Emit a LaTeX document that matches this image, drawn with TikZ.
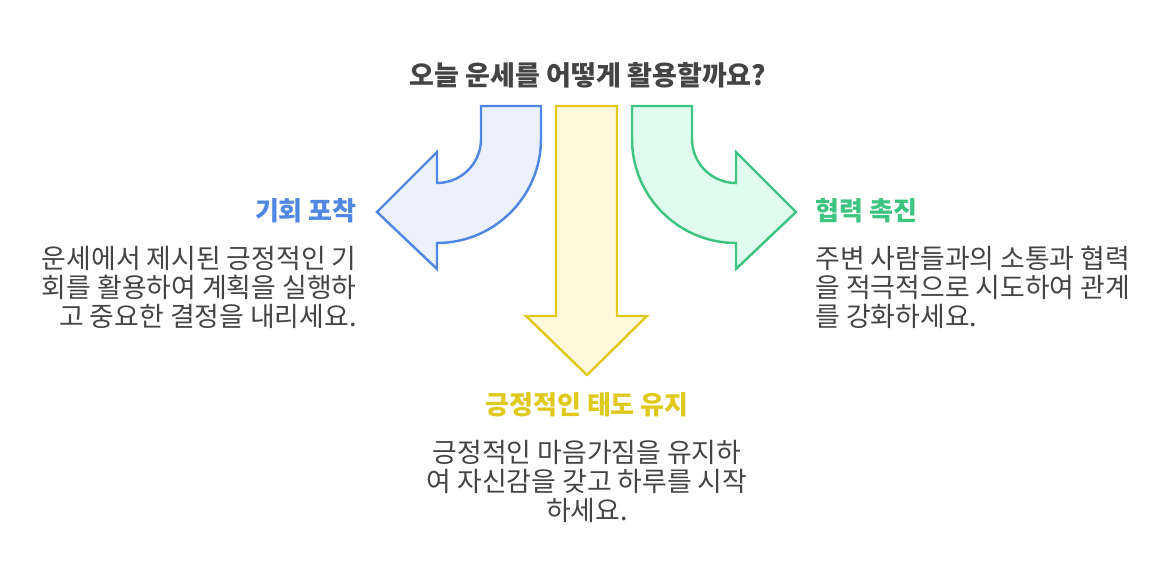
\documentclass[tikz,border=0pt]{standalone}
\usepackage{xcolor}
\usepackage{fontspec}
\setmainfont{Noto Sans CJK KR}
\usepackage{tikz}
\usetikzlibrary{positioning}
\definecolor{ink}{HTML}{444444}
\definecolor{blueline}{HTML}{4F87E2}
\definecolor{bluefill}{HTML}{EBF2FE}
\definecolor{yellowline}{HTML}{E0C81C}
\definecolor{yellowfill}{HTML}{FFF8DB}
\definecolor{greenline}{HTML}{3CC480}
\definecolor{greenfill}{HTML}{E0FCEE}
\tikzset{
  ArrowShape/.style={line width=1.4pt, line join=miter},
  HeadText/.style={font=\fontsize{14.8pt}{17pt}\selectfont\bfseries, inner sep=0pt},
  BodyText/.style={font=\fontsize{15.3pt}{16.6pt}\selectfont, text=ink, inner sep=0pt}
}

\begin{document}
\begin{tikzpicture}[x=0.02cm, y=-0.02cm]
  \useasboundingbox (0,0) rectangle (1173,588);

  % left bent arrow
  \draw[ArrowShape, draw=blueline, fill=bluefill]
    (481,106) -- (541,106) -- (541,139) arc[start angle=0, end angle=90, radius=104]
    -- (437,269) -- (377,212) -- (437,152) -- (437,183)
    arc[start angle=90, end angle=0, radius=44] -- cycle;

  % right bent arrow
  \draw[ArrowShape, draw=greenline, fill=greenfill]
    (692,106) -- (632,106) -- (632,139) arc[start angle=180, end angle=90, radius=104]
    -- (736,269) -- (796,212) -- (736,152) -- (736,183)
    arc[start angle=90, end angle=180, radius=44] -- cycle;

  % straight arrow down
  \draw[ArrowShape, draw=yellowline, fill=yellowfill]
    (556,106) -- (617,106) -- (617,316) -- (647,316) -- (587,375)
    -- (526,316) -- (556,316) -- cycle;

  \node[HeadText, text=ink, font=\fontsize{15.4pt}{17pt}\selectfont\bfseries] (title) at (588,75) {오늘 운세를 어떻게 활용할까요?};

  \node[HeadText, text=blueline, anchor=east] (chance) at (357,211) {기회 포착};
  \node[BodyText, align=right, below=0.44cm of chance.south east, anchor=north east] (chancetext)
    {운세에서 제시된 긍정적인 기\\회를 활용하여 계획을 실행하\\고 중요한 결정을 내리세요.};

  \node[HeadText, text=greenline, anchor=west] (coop) at (815,211) {협력 촉진};
  \node[BodyText, align=left, below=0.44cm of coop.south west, anchor=north west] (cooptext)
    {주변 사람들과의 소통과 협력\\을 적극적으로 시도하여 관계\\를 강화하세요.};

  \node[HeadText, text=yellowline] (attitude) at (587,405) {긍정적인 태도 유지};
  \node[BodyText, align=center, below=0.44cm of attitude] (attitudetext)
    {긍정적인 마음가짐을 유지하\\여 자신감을 갖고 하루를 시작\\하세요.};
\end{tikzpicture}
\end{document}
